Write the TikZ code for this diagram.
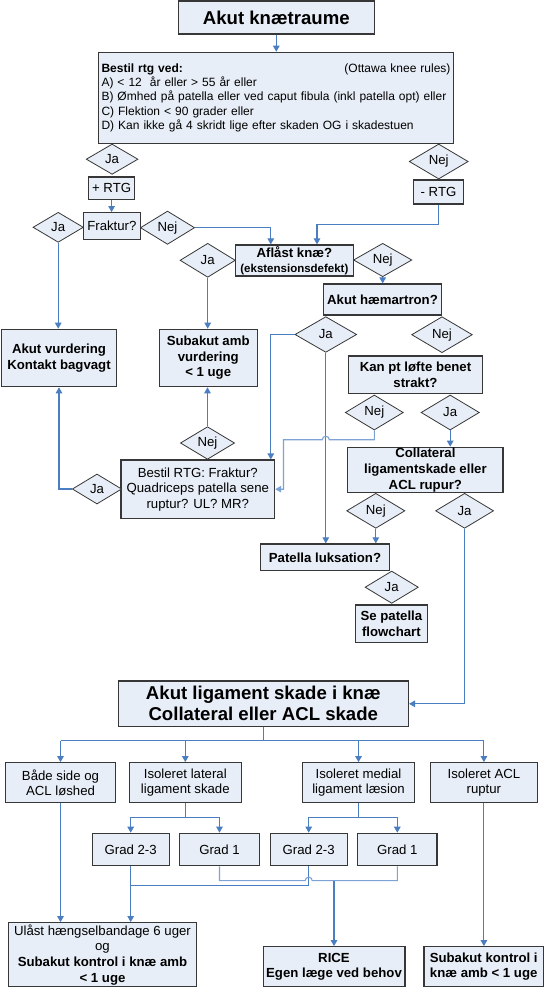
\documentclass[tikz,border=0pt]{standalone}
\usepackage{fontspec}
\setmainfont{Liberation Sans}
\usetikzlibrary{shapes.geometric,arrows.meta,calc}
\definecolor{boxfill}{RGB}{232,238,247}
\definecolor{bordercol}{RGB}{55,55,55}
\definecolor{linecol}{RGB}{74,126,193}
\definecolor{lightline}{RGB}{125,162,214}
\newcommand\fsn{\fontsize{13.2}{15.6}\selectfont}
\newcommand\fsbig{\fontsize{18.6}{21}\selectfont\bfseries}
\begin{document}
\begin{tikzpicture}[x=1pt,y=-1pt,
  box/.style={draw=bordercol, fill=boxfill, line width=1.2pt, inner sep=1pt, align=center, font=\fsn},
  bbox/.style={box, font=\fsn\bfseries},
  dia/.style={diamond, draw=bordercol, fill=boxfill, line width=0.8pt, inner sep=0pt, font=\fsn},
  conn/.style={draw=linecol, line width=1.1pt},
  lconn/.style={draw=lightline, line width=1.1pt},
  arr/.style={conn, -{Triangle[length=6pt,width=6.5pt]}},
  larr/.style={lconn, -{Triangle[length=6pt,width=6.5pt]}}]
\useasboundingbox[fill=white] (0,0) rectangle (545,988);

% nodes
\node[box, font=\fsbig, minimum width=196pt, minimum height=33pt] (title) at (276.3,17.5) {Akut knætraume};
\node[box, font=\fontsize{12}{14.4}\selectfont, align=left, text width=349pt, minimum width=355pt, minimum height=91pt] (bestil) at (276,97.8)
  {\textbf{Bestil rtg ved:}\hfill(Ottawa knee rules)\\
   A) < 12~ år eller > 55 år eller\\
   B) Ømhed på patella eller ved caput fibula (inkl patella opt) eller\\
   C) Flektion < 90 grader eller\\
   D) Kan ikke gå 4 skridt lige efter skaden OG i skadestuen};
\node[dia, minimum width=51.8pt, minimum height=30.3pt] (ja1) at (112.1,159.2) {Ja};
\node[dia, minimum width=59pt, minimum height=35pt] (nej1) at (438.7,161.5) {Nej};
\node[box, minimum width=46pt, minimum height=22.3pt] (plusrtg) at (111.6,188.2) {+ RTG};
\node[box, minimum width=49.7pt, minimum height=24pt] (minusrtg) at (438.5,192) {- RTG};
\node[box, minimum width=57pt, minimum height=26.6pt] (fraktur) at (111.9,226) {Fraktur?};
\node[dia, minimum width=50.4pt, minimum height=30pt] (ja2) at (58.2,227.3) {Ja};
\node[dia, minimum width=54.2pt, minimum height=33.3pt] (nej2) at (167.5,227.7) {Nej};
\node[bbox, minimum width=118.2pt, minimum height=31pt, inner sep=0pt] (aflaast) at (294.4,260.5)
  {Aflåst knæ?\\[-1pt]{\fontsize{11.5}{13}\selectfont(ekstensionsdefekt)}};
\node[dia, minimum width=55.3pt, minimum height=34pt] (ja3) at (207.7,260.3) {Ja};
\node[dia, minimum width=58.4pt, minimum height=33.4pt] (nej3) at (382.7,260) {Nej};
\node[bbox, minimum width=118.4pt, minimum height=31pt] (haemartron) at (382.5,299.5) {Akut hæmartron?};
\node[bbox, minimum width=114.7pt, minimum height=57.4pt] (akutvurd) at (59,358) {Akut vurdering\\Kontakt bagvagt};
\node[bbox, minimum width=98pt, minimum height=57.4pt] (subakutamb) at (208.2,358) {Subakut amb\\vurdering\\< 1 uge};
\node[dia, minimum width=61.7pt, minimum height=35.7pt] (ja4) at (325.8,334.5) {Ja};
\node[dia, minimum width=60.7pt, minimum height=36pt] (nej4) at (442,334.7) {Nej};
\node[bbox, minimum width=133.7pt, minimum height=37.3pt] (kanpt) at (415.5,374.7) {Kan pt løfte benet\\strakt?};
\node[dia, minimum width=58pt, minimum height=35pt] (nej5) at (374.3,412.5) {Nej};
\node[dia, minimum width=58.3pt, minimum height=35pt] (ja5) at (450.2,412.5) {Ja};
\node[bbox, minimum width=155.3pt, minimum height=45.4pt, inner sep=0pt] (collateral) at (425.4,470) {Collateral\\ligamentskade eller\\ACL rupur?};
\node[dia, minimum width=54.2pt, minimum height=32.6pt] (nej6) at (207.5,443) {Nej};
\node[box, minimum width=153.6pt, minimum height=58.3pt] (bestilrtg) at (197.8,489.2) {Bestil RTG: Fraktur?\\Quadriceps patella sene\\ruptur? UL? MR?};
\node[dia, minimum width=49.4pt, minimum height=30pt] (ja6) at (97,489) {Ja};
\node[dia, minimum width=58.3pt, minimum height=35pt] (nej7) at (375.8,510.8) {Nej};
\node[dia, minimum width=58pt, minimum height=35pt] (ja7) at (464.6,510.8) {Ja};
\node[bbox, minimum width=128.6pt, minimum height=26.7pt] (patella) at (325,557.3) {Patella luksation?};
\node[dia, minimum width=53.3pt, minimum height=32.3pt] (ja8) at (391.7,587.2) {Ja};
\node[bbox, minimum width=72.3pt, minimum height=37.7pt] (sepatella) at (391.4,623.8) {Se patella\\flowchart};
\node[box, font=\fsbig, minimum width=290.2pt, minimum height=45.7pt] (ligament) at (263.3,703.8) {Akut ligament skade i knæ\\Collateral eller ACL skade};
\node[box, minimum width=110.5pt, minimum height=40pt] (b1) at (60.5,782.7) {Både side og\\ACL løshed};
\node[box, minimum width=111.9pt, minimum height=40pt] (b2) at (185.3,782.7) {Isoleret lateral\\ligament skade};
\node[box, minimum width=111.6pt, minimum height=40pt] (b3) at (358.5,782.7) {Isoleret medial\\ligament læsion};
\node[box, minimum width=107.1pt, minimum height=40pt] (b4) at (483.9,782.7) {Isoleret ACL\\ruptur};
\node[box, minimum width=77.2pt, minimum height=32.4pt] (g1) at (130.7,849.5) {Grad 2-3};
\node[box, minimum width=79.6pt, minimum height=32.4pt] (g2) at (219.5,849.5) {Grad 1};
\node[box, minimum width=77.1pt, minimum height=32.4pt] (g3) at (308.7,849.5) {Grad 2-3};
\node[box, minimum width=79.2pt, minimum height=32.4pt] (g4) at (397.3,849.5) {Grad 1};
\node[box, minimum width=187.7pt, minimum height=64pt, inner sep=0pt] (ulaast) at (102.5,954.7) {Ulåst hængselbandage 6 uger\\og\\\textbf{Subakut kontrol i knæ amb}\\\textbf{< 1 uge}};
\node[bbox, minimum width=141.8pt, minimum height=40pt] (rice) at (334,966.7) {RICE\\Egen læge ved behov};
\node[bbox, minimum width=119.3pt, minimum height=40pt, inner sep=0pt] (subkontrol) at (483.7,966.7) {Subakut kontrol i\\knæ amb < 1 uge};

% connectors
\draw[arr] (title.south) -- (title.south |- bestil.north);
\draw[arr] (plusrtg.south) -- (plusrtg.south |- fraktur.north);
\draw[arr] (ja2.south) -- (ja2.south |- akutvurd.north);
\draw[arr] (nej2.east) -| ([xshift=-23.6pt]aflaast.north);
\draw[arr] (minusrtg.south) -- ++(0,20) -| ([xshift=22.6pt]aflaast.north);
\draw[arr] (ja3.south) -- (ja3.south |- subakutamb.north);
\draw[arr] (nej3.south) -- (nej3.south |- haemartron.north);
\draw[arr] (ja4.west) -| ([xshift=73pt]bestilrtg.north);
\draw[arr] (ja4.south) -- (ja4.south |- patella.north);
\draw[larr] (nej5.south) -- ++(0,9.3) coordinate (n5b)
   -- ($(ja4.south |- n5b)+(3.5,0)$) arc[start angle=0, end angle=180, radius=3.5pt]
   -| ($(bestilrtg.east)+(8.3,0)$) -- (bestilrtg.east);
\draw[arr] (ja5.south) -- (ja5.south |- collateral.north);
\draw[arr] (nej6.north) -- (nej6.north |- subakutamb.south);
\draw[arr] (ja6.west) -| (akutvurd.south);
\draw[arr] (nej7.south) -- (nej7.south |- patella.north);
\draw[arr] (ja7.south) |- (ligament.east);

\draw[conn] (ligament.south) -- ++(0,13.3) coordinate (lj);
\draw[conn] (lj -| b1.north) -- (lj -| b4.north);
\draw[arr] (lj -| b1.north) -- (b1.north);
\draw[arr] (lj -| b2.north) -- (b2.north);
\draw[arr] (lj -| b3.north) -- (b3.north);
\draw[arr] (lj -| b4.north) -- (b4.north);

\draw[conn] (b2.south) -- ++(0,14) coordinate (b2j);
\draw[arr] (b2j) -| (g1.north);
\draw[arr] (b2j) -| (g2.north);
\draw[conn] (b3.south) -- ++(0,14) coordinate (b3j);
\draw[arr] (b3j) -| (g3.north);
\draw[arr] (b3j) -| (g4.north);

\draw[arr] (b1.south) -- (b1.south |- ulaast.north);
\draw[arr] (b4.south) -- (b4.south |- subkontrol.north);
\draw[arr] (g1.south) -- (g1.south |- ulaast.north);
\draw[conn] (g3.south) -- ++(0,19.3) coordinate (g3b) -- (g3b -| g1.south);
\coordinate (gl) at ($(g2.south)+(0,14.3)$);
\draw[lconn] (g2.south) -- (gl) -- ($(gl -| g3.south)+(-3.5,0)$) arc[start angle=180, end angle=0, radius=3.5pt] -| (g4.south);
\draw[arr] (rice.north |- gl) -- (rice.north);
\end{tikzpicture}
\end{document}
